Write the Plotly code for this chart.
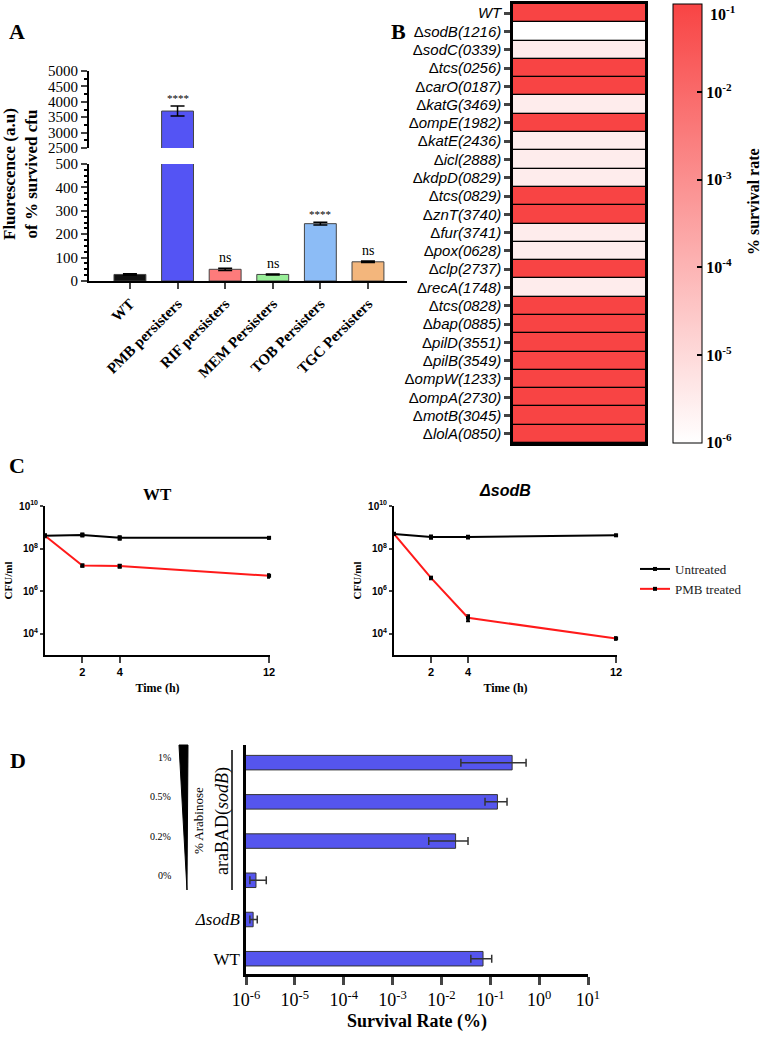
import math
import plotly.graph_objects as go

W, H = 764, 1039
def X(px): return px / W
def Y(py): return 1 - py / H

SERIF = "Liberation Serif"
SANS = "Liberation Sans"

# ---------------- Panel A data ----------------
a_groups = ["WT", "PMB persisters", "RIF persisters", "MEM Persisters", "TOB Persisters", "TGC Persisters"]
a_values = [28, 3700, 50, 28, 245, 82]
a_errors = [3, 160, 5, 2, 6, 3]
a_sig = ["", "****", "ns", "ns", "****", "ns"]
a_colors = ["#111111", "#5454f4", "#fd7b7b", "#98ee98", "#8cbcf6", "#f3b67c"]

# ---------------- Panel B data ----------------
b_strains = ["WT", "sodB(1216)", "sodC(0339)", "tcs(0256)", "carO(0187)", "katG(3469)",
             "ompE(1982)", "katE(2436)", "icl(2888)", "kdpD(0829)", "tcs(0829)", "znT(3740)",
             "fur(3741)", "pox(0628)", "clp(2737)", "recA(1748)", "tcs(0828)", "bap(0885)",
             "pilD(3551)", "pilB(3549)", "ompW(1233)", "ompA(2730)", "motB(3045)", "lolA(0850)"]
b_log_survival = [-1, -6, -5.5, -1, -1, -5.5, -1, -5.5, -5.5, -5.5, -1, -1,
                  -5.5, -5.5, -1, -5.5, -1, -1, -1, -1, -1, -1, -1, -1]
b_ticks = [-1, -2, -3, -4, -5, -6]

# ---------------- Panel C data ----------------
c_time = [0, 2, 4, 12]
c_wt_untreated = [4.0e8, 4.4e8, 3.2e8, 3.2e8]
c_wt_untreated_err = [0.6e8, 0.7e8, 0.6e8, 0.3e8]
c_wt_pmb = [4.0e8, 1.6e7, 1.5e7, 5.3e6]
c_wt_pmb_err = [0.5e8, 0.2e7, 0.25e7, 1.0e6]
c_sod_untreated = [4.9e8, 3.5e8, 3.5e8, 4.2e8]
c_sod_untreated_err = [0.5e8, 0.6e8, 0.5e8, 0.3e8]
c_sod_pmb = [4.9e8, 4.2e6, 5.6e4, 6.0e3]
c_sod_pmb_err = [0.5e8, 0.6e6, 1.8e4, 0.8e3]
c_yticks = [1e4, 1e6, 1e8, 1e10]
c_xticks = [2, 4, 12]

# ---------------- Panel D data ----------------
d_groups = ["WT", "ΔsodB", "0%", "0.2%", "0.5%", "1%"]
d_values = [0.071, 1.4e-6, 1.6e-6, 0.0195, 0.14, 0.28]
d_err_plus = [0.036, 0.3e-6, 1.0e-6, 0.0155, 0.08, 0.26]
d_err_minus = [0.031, 0.2e-6, 0.4e-6, 0.014, 0.062, 0.255]
d_xticks = [1e-6, 1e-5, 1e-4, 1e-3, 1e-2, 1e-1, 1e0, 1e1]
d_arabinose = ["0%", "0.2%", "0.5%", "1%"]

fig = go.Figure()

# ----- Panel A bars (lower and upper segment) -----
for xa, ya in (("x", "y"), ("x2", "y2")):
    fig.add_trace(go.Bar(
        x=a_groups, y=a_values, xaxis=xa, yaxis=ya, width=0.67,
        marker=dict(color=a_colors, line=dict(color="#444444", width=1)),
        error_y=dict(type="data", array=a_errors, color="black", thickness=1.5, width=7),
        showlegend=False, hoverinfo="skip"))

# ----- Panel B heatmap -----
cb_text = ["10<sup>%d</sup>" % t for t in b_ticks]
fig.add_trace(go.Heatmap(
    z=[[v] for v in b_log_survival], x=[0],
    y=["Δ<i>" + s + "</i>" if s != "WT" else "<i>WT</i>" for s in b_strains],
    xaxis="x3", yaxis="y3", zmin=-6.005, zmax=-0.995, ygap=1.3,
    colorscale=[[0, "#ffffff"], [1, "#f84444"]],
    colorbar=dict(
        x=X(673), xanchor="left", xpad=0, y=Y(4), yanchor="top", ypad=0,
        lenmode="pixels", len=439, thicknessmode="pixels", thickness=29,
        outlinewidth=1, outlinecolor="black",
        tickmode="array", tickvals=b_ticks,
        ticktext=[""] + cb_text[1:],
        ticks="inside", ticklen=5, tickwidth=2, tickcolor="black",
        tickfont=dict(family=SERIF, size=16, color="black", weight="bold")),
    hoverinfo="skip"))

# ----- Panel C lines -----
def add_line(y, err, color, name, xa, ya, show):
    fig.add_trace(go.Scatter(
        x=c_time, y=y, xaxis=xa, yaxis=ya, mode="lines+markers", name=name,
        line=dict(color=color, width=2),
        marker=dict(symbol="square", size=4, color="black"),
        error_y=dict(type="data", array=err, color="black", thickness=2, width=2),
        showlegend=show, cliponaxis=False, hoverinfo="skip"))

add_line(c_wt_untreated, c_wt_untreated_err, "black", "Untreated", "x4", "y4", False)
add_line(c_wt_pmb, c_wt_pmb_err, "#ff1a1a", "PMB treated", "x4", "y4", False)
add_line(c_sod_untreated, c_sod_untreated_err, "black", "Untreated", "x5", "y5", True)
add_line(c_sod_pmb, c_sod_pmb_err, "#ff1a1a", "PMB treated", "x5", "y5", True)

# ----- Panel D bars -----
fig.add_trace(go.Bar(
    x=d_values, y=d_groups, orientation="h", xaxis="x6", yaxis="y6", width=0.37,
    marker=dict(color="#5555ee", line=dict(color="#333333", width=1)),
    error_x=dict(type="data", array=d_err_plus, arrayminus=d_err_minus,
                 color="#333333", thickness=1.5, width=4),
    showlegend=False, hoverinfo="skip"))

# ---------------- Axes ----------------
ax_common = dict(showgrid=False, zeroline=False, showline=True, linecolor="black", automargin=False)
lay = dict(
    xaxis=dict(domain=[X(89), X(407)], anchor="y", range=[-0.86, 5.82], linewidth=2,
               ticks="outside", ticklen=6, tickwidth=2, tickangle=-45,
               tickfont=dict(family=SERIF, size=15, color="black", weight="bold"), **ax_common),
    yaxis=dict(domain=[Y(281), Y(164)], anchor="x", range=[0, 500], linewidth=2,
               ticks="outside", ticklen=6, tickwidth=2, dtick=100,
               minor=dict(dtick=25, ticks="outside", ticklen=3, tickwidth=2, tickcolor="black"),
               tickfont=dict(family=SERIF, size=15, color="black"), **ax_common),
    xaxis2=dict(domain=[X(89), X(407)], anchor="y2", matches="x", visible=False, automargin=False),
    yaxis2=dict(domain=[Y(148), Y(71)], anchor="x2", range=[2500, 5000], linewidth=2,
                ticks="outside", ticklen=6, tickwidth=2, dtick=500,
                minor=dict(dtick=250, ticks="outside", ticklen=3, tickwidth=2, tickcolor="black"),
                tickfont=dict(family=SERIF, size=15, color="black"), **ax_common),
    xaxis3=dict(domain=[X(513), X(645)], anchor="y3", range=[-0.5, 0.5], showticklabels=False,
                mirror=True, linewidth=2.5, ticks="", **ax_common),
    yaxis3=dict(domain=[Y(443), Y(4)], anchor="x3", autorange="reversed", mirror=True,
                linewidth=2.5, ticks="outside", ticklen=6, tickwidth=3,
                tickfont=dict(family=SANS, size=15, color="black"), **ax_common),
)
for i, (x0, x1) in ((4, (45, 270)), (5, (394, 617))):
    lay["xaxis%d" % i] = dict(domain=[X(x0), X(x1)], anchor="y%d" % i, range=[0, 12.05],
                              linewidth=2, ticks="outside", ticklen=6, tickwidth=1.5,
                              tickmode="array", tickvals=c_xticks,
                              tickfont=dict(family=SANS, size=11, color="black", weight="bold"),
                              title=dict(text="Time (h)", standoff=6,
                                         font=dict(family=SERIF, size=12, color="black", weight="bold")),
                              **ax_common)
    lay["yaxis%d" % i] = dict(domain=[Y(655), Y(506)], anchor="x%d" % i, type="log", range=[3, 10],
                              linewidth=2, ticks="outside", ticklen=3, tickwidth=1.5,
                              tickmode="array", tickvals=c_yticks,
                              ticktext=["10<sup>%d</sup>" % round(math.log10(v)) for v in c_yticks],
                              tickfont=dict(family=SANS, size=10, color="black", weight="bold"),
                              title=dict(text="CFU/ml", standoff=4,
                                         font=dict(family=SERIF, size=11, color="black", weight="bold")),
                              **ax_common)
lay["xaxis6"] = dict(domain=[X(246), X(588)], anchor="y6", type="log", range=[-6, 1],
                     linewidth=2.5, ticks="outside", ticklen=8, tickwidth=2.5,
                     tickmode="array", tickvals=d_xticks,
                     ticktext=["10<sup>%d</sup>" % e for e in range(-6, 2)],
                     tickfont=dict(family=SERIF, size=18, color="black"),
                     title=dict(text="Survival Rate (%)", standoff=6,
                                font=dict(family=SERIF, size=18, color="black", weight="bold")),
                     **ax_common)
lay["yaxis6"] = dict(domain=[Y(974), Y(745)], anchor="x6", type="category",
                     categoryorder="array", categoryarray=d_groups, range=[-0.39, 5.45],
                     linewidth=2.5, ticks="", tickmode="array", tickvals=["WT", "ΔsodB"],
                     ticktext=["WT", "<i>Δsod</i><i>B</i>"],
                     tickfont=dict(family=SERIF, size=17, color="black"), **ax_common)

CM = dict(xanchor="center", yanchor="middle", showarrow=False)
annotations = []
# significance labels
for g, v, e, s in zip(a_groups, a_values, a_errors, a_sig):
    if not s:
        continue
    big = v > 500
    annotations.append(dict(x=g, y=v + e, xref="x2" if big else "x", yref="y2" if big else "y",
                            text=s, showarrow=False, xanchor="center", yanchor="bottom",
                            yshift=1 if s == "ns" else 0,
                            font=dict(family=SERIF, size=14 if s == "ns" else 11, color="black")))
# y title A
annotations.append(dict(x=X(20), y=Y(174), xref="paper", yref="paper", textangle=-90,
                        text="Fluorescence (a.u)<br>of % survived cfu", align="center",
                        font=dict(family=SERIF, size=17, color="black", weight="bold"), **CM))
# colorbar top label and title
annotations.append(dict(x=X(708), y=Y(13), xref="paper", yref="paper", text=cb_text[0],
                        xanchor="left", yanchor="middle", showarrow=False,
                        font=dict(family=SERIF, size=16, color="black", weight="bold")))
annotations.append(dict(x=X(754), y=Y(202), xref="paper", yref="paper", textangle=-90,
                        text="% survival rate",
                        font=dict(family=SERIF, size=16, color="black", weight="bold"), **CM))
# panel letters
for lt, px, py in (("A", 17, 32), ("B", 398, 32), ("C", 17, 465), ("D", 18, 760)):
    annotations.append(dict(x=X(px), y=Y(py), xref="paper", yref="paper", text=lt,
                            font=dict(family=SERIF, size=22, color="black", weight="bold"), **CM))
# panel C titles
annotations.append(dict(x=0.5, y=Y(494), xref="x4 domain", yref="paper", text="WT",
                        font=dict(family=SERIF, size=17, color="black", weight="bold"), **CM))
annotations.append(dict(x=0.5, y=Y(491), xref="x5 domain", yref="paper", text="<i>ΔsodB</i>",
                        font=dict(family=SANS, size=16, color="black", weight="bold"), **CM))
# panel D arabinose labels
for g in d_arabinose:
    annotations.append(dict(x=X(173), y=g, xref="paper", yref="y6", text=g, showarrow=False,
                            xanchor="right", yanchor="middle", yshift=5,
                            font=dict(family=SERIF, size=10, color="black")))
annotations.append(dict(x=X(198), y=Y(821), xref="paper", yref="paper", textangle=-90,
                        text="% Arabinose", font=dict(family=SERIF, size=13, color="black"), **CM))
annotations.append(dict(x=X(222), y=Y(821), xref="paper", yref="paper", textangle=-90,
                        text="araBAD(<i>sodB</i>)", font=dict(family=SERIF, size=18, color="black"), **CM))

shapes = [
    dict(type="rect", xref="x3 domain", yref="y3 domain", x0=0, x1=1, y0=0, y1=1,
         fillcolor="black", line=dict(width=0), layer="below"),
    dict(type="path", xref="paper", yref="paper",
         path="M %f %f L %f %f L %f %f Z" % (X(179), Y(745), X(188), Y(745), X(187), Y(890)),
         fillcolor="black", line=dict(color="black", width=1)),
    dict(type="line", xref="paper", yref="paper", x0=X(232), x1=X(232), y0=Y(750), y1=Y(890),
         line=dict(color="black", width=1.5)),
]

fig.update_layout(
    width=W, height=H, margin=dict(l=0, r=0, t=0, b=0, autoexpand=False),
    paper_bgcolor="white", plot_bgcolor="rgba(0,0,0,0)",
    bargap=0.3, annotations=annotations, shapes=shapes,
    legend=dict(x=X(635), y=Y(554), xanchor="left", yanchor="top", bgcolor="rgba(0,0,0,0)",
                font=dict(family=SERIF, size=13, color="#222222"), itemwidth=30,
                tracegroupgap=0),
    **lay)

fig.write_html("out.html", config={"displayModeBar": False},
               post_script="document.body.style.margin='0';document.body.style.padding='0';")
